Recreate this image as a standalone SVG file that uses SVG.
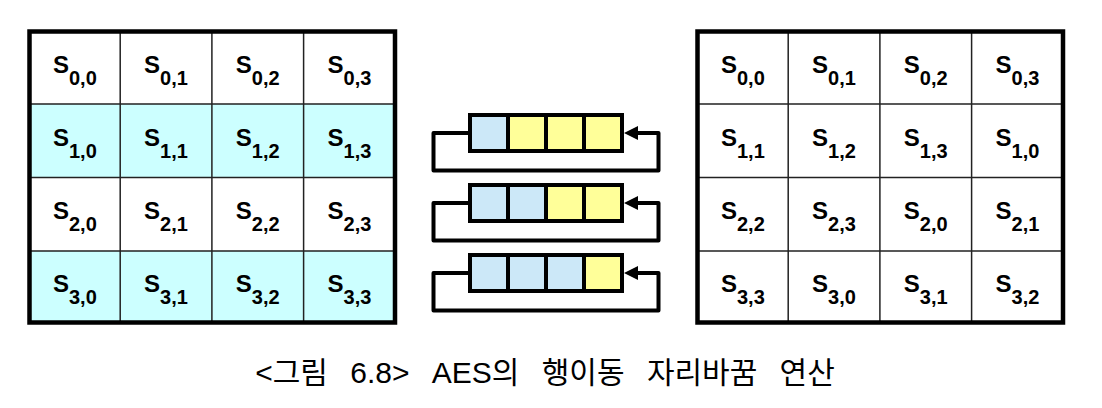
<svg xmlns="http://www.w3.org/2000/svg" width="1102" height="408" viewBox="0 0 1102 408">
<style>
.bg{fill:#ffffff}
.cy{fill:#ccffff}
.wh{fill:#ffffff}
.grid{stroke:#222;stroke-width:1.5;fill:none}
.outer{stroke:#000;stroke-width:4.5;fill:none}
.t{font-family:"Liberation Sans",Arial,sans-serif;font-weight:bold;fill:#000;text-anchor:middle}
.s{font-size:24px}
.sub{font-size:20px}
.blue{fill:#cce8f8;stroke:#000;stroke-width:4}
.yel{fill:#ffff99;stroke:#000;stroke-width:4}
.loop{fill:none;stroke:#000;stroke-width:4;stroke-linejoin:round}
.arr{fill:#000}
.cap{font-family:"Liberation Sans","Noto Sans CJK KR",sans-serif;font-size:30px;fill:#000;text-anchor:middle}
</style>
<rect class="bg" x="0" y="0" width="1102" height="408"/>

<!-- Left state grid -->
<g id="leftGrid">
  <rect class="wh" x="29.5" y="31.5" width="365.5" height="72.5"/>
  <rect class="cy" x="29.5" y="104" width="365.5" height="73.5"/>
  <rect class="wh" x="29.5" y="177.5" width="365.5" height="73.5"/>
  <rect class="cy" x="29.5" y="251" width="365.5" height="71.5"/>
  <path class="grid" d="M120.2,31.5V322.5M211.9,31.5V322.5M303.6,31.5V322.5M29.5,104H395M29.5,177.5H395M29.5,251H395"/>
  <rect class="outer" x="29.5" y="31.5" width="365.5" height="291"/>
</g>
<g id="L00"><text class="t" x="74.9" y="73"><tspan class="s">S</tspan><tspan class="sub" dy="12">0,0</tspan></text></g>
<g id="L01"><text class="t" x="166" y="73"><tspan class="s">S</tspan><tspan class="sub" dy="12">0,1</tspan></text></g>
<g id="L02"><text class="t" x="257.7" y="73"><tspan class="s">S</tspan><tspan class="sub" dy="12">0,2</tspan></text></g>
<g id="L03"><text class="t" x="349.5" y="73"><tspan class="s">S</tspan><tspan class="sub" dy="12">0,3</tspan></text></g>
<g id="L10"><text class="t" x="74.9" y="145.5"><tspan class="s">S</tspan><tspan class="sub" dy="12">1,0</tspan></text></g>
<g id="L11"><text class="t" x="166" y="145.5"><tspan class="s">S</tspan><tspan class="sub" dy="12">1,1</tspan></text></g>
<g id="L12"><text class="t" x="257.7" y="145.5"><tspan class="s">S</tspan><tspan class="sub" dy="12">1,2</tspan></text></g>
<g id="L13"><text class="t" x="349.5" y="145.5"><tspan class="s">S</tspan><tspan class="sub" dy="12">1,3</tspan></text></g>
<g id="L20"><text class="t" x="74.9" y="219"><tspan class="s">S</tspan><tspan class="sub" dy="12">2,0</tspan></text></g>
<g id="L21"><text class="t" x="166" y="219"><tspan class="s">S</tspan><tspan class="sub" dy="12">2,1</tspan></text></g>
<g id="L22"><text class="t" x="257.7" y="219"><tspan class="s">S</tspan><tspan class="sub" dy="12">2,2</tspan></text></g>
<g id="L23"><text class="t" x="349.5" y="219"><tspan class="s">S</tspan><tspan class="sub" dy="12">2,3</tspan></text></g>
<g id="L30"><text class="t" x="74.9" y="291.5"><tspan class="s">S</tspan><tspan class="sub" dy="12">3,0</tspan></text></g>
<g id="L31"><text class="t" x="166" y="291.5"><tspan class="s">S</tspan><tspan class="sub" dy="12">3,1</tspan></text></g>
<g id="L32"><text class="t" x="257.7" y="291.5"><tspan class="s">S</tspan><tspan class="sub" dy="12">3,2</tspan></text></g>
<g id="L33"><text class="t" x="349.5" y="291.5"><tspan class="s">S</tspan><tspan class="sub" dy="12">3,3</tspan></text></g>

<!-- Right state grid -->
<g id="rightGrid">
  <rect class="wh" x="697.5" y="31.5" width="365.5" height="291"/>
  <path class="grid" d="M788.2,31.5V322.5M879.9,31.5V322.5M971.6,31.5V322.5M697.5,104H1063M697.5,177.5H1063M697.5,251H1063"/>
  <rect class="outer" x="697.5" y="31.5" width="365.5" height="291"/>
</g>
<g id="R00"><text class="t" x="742.9" y="73"><tspan class="s">S</tspan><tspan class="sub" dy="12">0,0</tspan></text></g>
<g id="R01"><text class="t" x="834" y="73"><tspan class="s">S</tspan><tspan class="sub" dy="12">0,1</tspan></text></g>
<g id="R02"><text class="t" x="925.7" y="73"><tspan class="s">S</tspan><tspan class="sub" dy="12">0,2</tspan></text></g>
<g id="R03"><text class="t" x="1017.5" y="73"><tspan class="s">S</tspan><tspan class="sub" dy="12">0,3</tspan></text></g>
<g id="R10"><text class="t" x="742.9" y="145.5"><tspan class="s">S</tspan><tspan class="sub" dy="12">1,1</tspan></text></g>
<g id="R11"><text class="t" x="834" y="145.5"><tspan class="s">S</tspan><tspan class="sub" dy="12">1,2</tspan></text></g>
<g id="R12"><text class="t" x="925.7" y="145.5"><tspan class="s">S</tspan><tspan class="sub" dy="12">1,3</tspan></text></g>
<g id="R13"><text class="t" x="1017.5" y="145.5"><tspan class="s">S</tspan><tspan class="sub" dy="12">1,0</tspan></text></g>
<g id="R20"><text class="t" x="742.9" y="219"><tspan class="s">S</tspan><tspan class="sub" dy="12">2,2</tspan></text></g>
<g id="R21"><text class="t" x="834" y="219"><tspan class="s">S</tspan><tspan class="sub" dy="12">2,3</tspan></text></g>
<g id="R22"><text class="t" x="925.7" y="219"><tspan class="s">S</tspan><tspan class="sub" dy="12">2,0</tspan></text></g>
<g id="R23"><text class="t" x="1017.5" y="219"><tspan class="s">S</tspan><tspan class="sub" dy="12">2,1</tspan></text></g>
<g id="R30"><text class="t" x="742.9" y="291.5"><tspan class="s">S</tspan><tspan class="sub" dy="12">3,3</tspan></text></g>
<g id="R31"><text class="t" x="834" y="291.5"><tspan class="s">S</tspan><tspan class="sub" dy="12">3,0</tspan></text></g>
<g id="R32"><text class="t" x="925.7" y="291.5"><tspan class="s">S</tspan><tspan class="sub" dy="12">3,1</tspan></text></g>
<g id="R33"><text class="t" x="1017.5" y="291.5"><tspan class="s">S</tspan><tspan class="sub" dy="12">3,2</tspan></text></g>

<!-- Shift registers -->
<g id="shift1">
  <rect class="blue" x="470" y="115" width="38" height="36"/>
  <rect class="yel" x="508" y="115" width="38" height="36"/>
  <rect class="yel" x="546" y="115" width="38" height="36"/>
  <rect class="yel" x="584" y="115" width="38" height="36"/>
</g>
<g id="shift2">
  <rect class="blue" x="470" y="185" width="38" height="36"/>
  <rect class="blue" x="508" y="185" width="38" height="36"/>
  <rect class="yel" x="546" y="185" width="38" height="36"/>
  <rect class="yel" x="584" y="185" width="38" height="36"/>
</g>
<g id="shift3">
  <rect class="blue" x="470" y="255" width="38" height="36"/>
  <rect class="blue" x="508" y="255" width="38" height="36"/>
  <rect class="blue" x="546" y="255" width="38" height="36"/>
  <rect class="yel" x="584" y="255" width="38" height="36"/>
</g>

<g id="connectors">
  <path class="loop" d="M470,133H433.5V170.5H658.5V133H636"/>
  <polygon class="arr" points="624,133 638,126 638,140"/>
  <path class="loop" d="M470,203H433.5V240.5H658.5V203H636"/>
  <polygon class="arr" points="624,203 638,196 638,210"/>
  <path class="loop" d="M470,273H433.5V310.5H658.5V273H636"/>
  <polygon class="arr" points="624,273 638,266 638,280"/>
</g>

<text class="cap" x="545" y="383" word-spacing="14">&lt;그림 6.8&gt; AES의 행이동 자리바꿈 연산</text>
</svg>
